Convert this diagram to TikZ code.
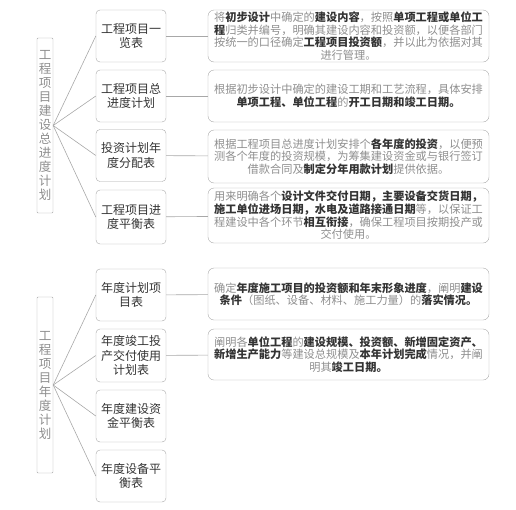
\documentclass[tikz,border=0pt]{standalone}
\usepackage{fontspec}
\setmainfont{Noto Sans CJK SC}
\definecolor{lineGray}{HTML}{A8A8A8}
\definecolor{lightTxt}{HTML}{8E8E8E}
\definecolor{darkTxt}{HTML}{333333}
\newcommand{\hl}[1]{{\color{darkTxt}\bfseries #1}}
\tikzset{
  sidebox/.style={draw=lineGray, rounded corners=1pt, minimum width=16pt, inner sep=0pt,
    text=lightTxt, align=center, font=\fontsize{12.5}{14}\selectfont},
  itembox/.style={draw=lineGray, rounded corners=4pt, minimum width=70pt, minimum height=52pt,
    inner sep=0pt, text=darkTxt, align=center, font=\fontsize{12}{14.5}\selectfont},
  notebox/.style={draw=lineGray, rounded corners=6pt, minimum width=281pt, minimum height=52pt,
    inner sep=0pt, text=lightTxt, align=center, font=\fontsize{11.2}{12.6}\selectfont},
  link/.style={draw=lineGray, line width=0.6pt}
}
\begin{document}
\begin{tikzpicture}[x=1pt, y=-1pt]
  \useasboundingbox (0,0) rectangle (516,509);
  % 1. Hai khung dọc bên trái
  \node[sidebox, minimum height=175pt] (total) at (45,125.5)
    {工\\程\\项\\目\\建\\设\\总\\进\\度\\计\\划};
  \node[sidebox, minimum height=176pt] (annual) at (45,385)
    {工\\程\\项\\目\\年\\度\\计\\划};

  % 2. Các ô giữa (nhóm trên)
  \node[itembox] (t1) at (131,36) {工程项目一\\览表};
  \node[itembox] (t2) at (131,96) {工程项目总\\进度计划};
  \node[itembox] (t3) at (131,155.5) {投资计划年\\度分配表};
  \node[itembox, minimum height=54pt] (t4) at (131,217) {工程项目进\\度平衡表};
  % Các ô giữa (nhóm dưới)
  \node[itembox] (a1) at (131,295) {年度计划项\\目表};
  \node[itembox, minimum height=53pt] (a2) at (131,355.5) {年度竣工投\\产交付使用\\计划表};
  \node[itembox] (a3) at (131,416) {年度建设资\\金平衡表};
  \node[itembox] (a4) at (131,476) {年度设备平\\衡表};

  % 3. Các ô giải thích bên phải
  \node[notebox] (n1) at (348.5,36) {将\hl{初步设计}中确定的\hl{建设内容}，按照\hl{单项工程或单位工}\\
    \hl{程}归类并编号，明确其建设内容和投资额，以便各部门\\
    按统一的口径确定\hl{工程项目投资额}，并以此为依据对其\\
    进行管理。};
  \node[notebox] (n2) at (348.5,96) {根据初步设计中确定的建设工期和工艺流程，具体安排\\
    \hl{单项工程、单位工程}的\hl{开工日期和竣工日期。}};
  \node[notebox, minimum height=53pt] (n3) at (348.5,156.5) {根据工程项目总进度计划安排个\hl{各年度的投资}，以便预\\
    测各个年度的投资规模，为筹集建设资金或与银行签订\\
    借款合同及\hl{制定分年用款计划}提供依据。};
  \node[notebox, minimum height=55pt] (n4) at (348.5,215.5) {用来明确各个\hl{设计文件交付日期，主要设备交货日期，}\\
    \hl{施工单位进场日期，水电及道路接通日期}等，以保证工\\
    程建设中各个环节\hl{相互衔接}，确保工程项目按期投产或\\
    交付使用。};
  \node[notebox] (m1) at (348.5,294) {确定\hl{年度施工项目的投资额和年末形象进度}，阐明\hl{建设}\\
    \hl{条件}（图纸、设备、材料、施工力量）的\hl{落实情况。}};
  \node[notebox, minimum height=51pt] (m2) at (348.5,354.5) {阐明各\hl{单位工程}的\hl{建设规模、投资额、新增固定资产、}\\
    \hl{新增生产能力}等建设总规模及\hl{本年计划完成}情况，并阐\\
    明其\hl{竣工日期。}};

  % 4. Đường nối
  \foreach \b in {t1,t2,t3,t4} {
    \draw[link] (total.east) -- (\b.west);
  }
  \foreach \b in {a1,a2,a3,a4} {
    \draw[link] (annual.east) -- (\b.west);
  }
  \draw[link] (t1) -- (n1);
  \draw[link] (t2) -- (n2);
  \draw[link] (t3) -- (n3);
  \draw[link] (t4) -- (n4);
  \draw[link] (a1) -- (m1);
  \draw[link] (a2) -- (m2);
\end{tikzpicture}
\end{document}
